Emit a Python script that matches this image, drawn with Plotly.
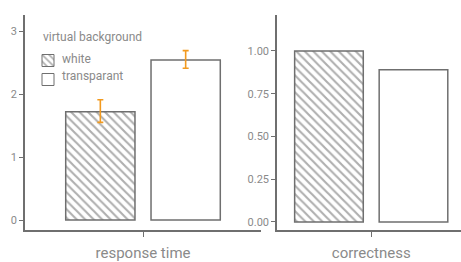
import plotly.graph_objects as go

conditions = ["white", "transparant"]
measures = ["response time", "correctness"]
rt_mean = [1.72, 2.54]
rt_err_plus = [0.19, 0.15]
rt_err_minus = [0.17, 0.13]
correct_mean = [1.00, 0.89]
legend_title = "virtual background"

GRAY = "#6f6f6f"
TXT = "#8a8a8a"
ORANGE = "#f29a1f"
FONT = "Roboto"

W, H = 461, 262
ML, MR, MT, MB = 25, 0, 15, 32
PW, PH = W - ML - MR, H - MT - MB


def px(x):
    return (x - ML) / PW


def py(y):
    return 1 - (y - MT) / PH


patterns = [dict(shape="\\", size=6, solidity=0.35, fgcolor="#5f5f5f", bgcolor="white"),
            dict(shape="", bgcolor="white")]

fig = go.Figure()
for i, c in enumerate(conditions):
    fig.add_trace(go.Bar(
        x=[measures[0]], y=[rt_mean[i]], name=c, legendgroup=c, offsetgroup=c, showlegend=False,
        marker=dict(color="white", pattern=patterns[i], line=dict(color=GRAY, width=1.5)),
        error_y=dict(type="data", array=[rt_err_plus[i]], arrayminus=[rt_err_minus[i]],
                     color=ORANGE, thickness=1.6, width=3),
        xaxis="x", yaxis="y"))
for i, c in enumerate(conditions):
    fig.add_trace(go.Bar(
        x=[measures[1]], y=[correct_mean[i]], name=c, legendgroup=c, offsetgroup=c, showlegend=False,
        marker=dict(color="white", pattern=patterns[i], line=dict(color=GRAY, width=1.5)),
        xaxis="x2", yaxis="y2"))
# legend swatches (text drawn as annotations next to them)
for i, c in enumerate(conditions):
    fig.add_trace(go.Bar(
        x=[None], y=[None], name=" ", legendgroup=c, offsetgroup=c, showlegend=True,
        marker=dict(color="white", pattern=patterns[i], line=dict(color=GRAY, width=1)),
        hoverinfo="skip", xaxis="x", yaxis="y"))

axis_common = dict(showline=True, linecolor=GRAY, linewidth=1.5, showgrid=False, zeroline=False,
                   ticks="outside", ticklen=4, tickcolor=GRAY, tickwidth=1, automargin=False,
                   tickfont=dict(family=FONT, size=11, color=TXT))
xaxis_extra = dict(tickfont=dict(family=FONT, size=15, color=TXT), ticklen=5, ticklabelstandoff=3)

annotations = [dict(text=legend_title, x=px(41), y=py(37), xanchor="left", yanchor="middle")]
for i, c in enumerate(conditions):
    annotations.append(dict(text=c, x=px(60), y=py(58.5 + 17 * i), xanchor="left", yanchor="middle"))
for a in annotations:
    a.update(xref="paper", yref="paper", showarrow=False,
             font=dict(family=FONT, size=12, color=TXT))

fig.update_layout(
    width=W, height=H, plot_bgcolor="white", paper_bgcolor="white",
    margin=dict(l=ML, r=MR, t=MT, b=MB),
    barmode="group", bargap=0.277, bargroupgap=0.188,
    font=dict(family=FONT, color=TXT),
    xaxis=dict(domain=[0, 236 / PW], range=[-0.5, 0.5], type="category",
               **{**axis_common, **xaxis_extra}),
    yaxis=dict(range=[-0.158, 3.255], tickvals=[0, 1, 2, 3], anchor="x", **axis_common),
    xaxis2=dict(domain=[252 / PW, 1], range=[-0.403, 0.384], type="category", anchor="y2",
                **{**axis_common, **xaxis_extra}),
    yaxis2=dict(range=[-0.047, 1.21], tickvals=[0, 0.25, 0.5, 0.75, 1.0], tickformat=".2f",
                anchor="x2", **axis_common),
    legend=dict(x=px(28), y=py(46), xanchor="left", yanchor="top", bgcolor="rgba(0,0,0,0)",
                font=dict(family=FONT, size=12, color=TXT), tracegroupgap=0, itemwidth=30),
    annotations=annotations,
)
fig.write_html("out.html", config={"displayModeBar": False},
               post_script="document.body.style.margin='0px';")
